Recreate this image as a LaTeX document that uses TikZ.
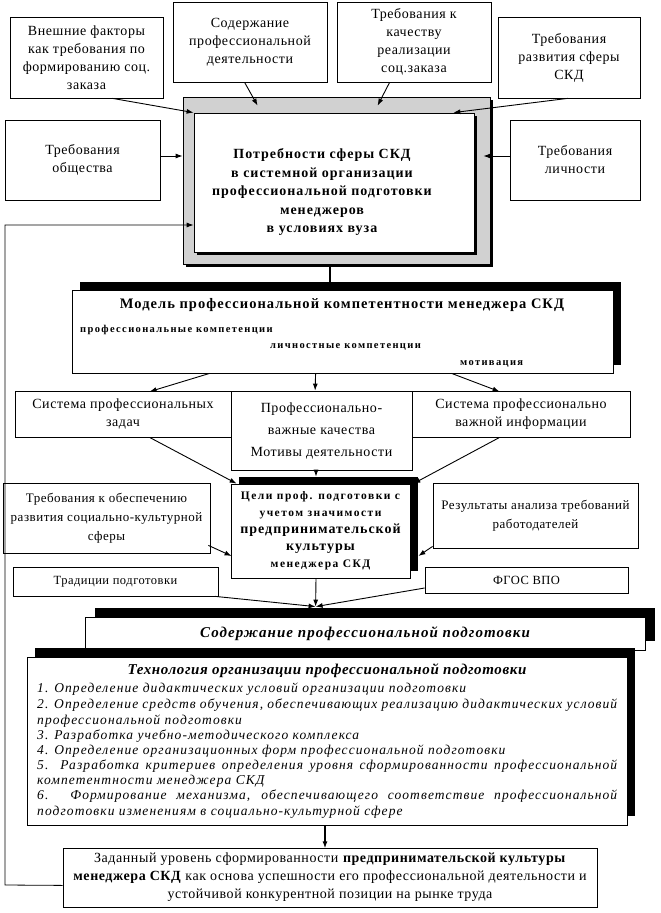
\documentclass[tikz,border=0pt]{standalone}
\usepackage{fontspec}
\setmainfont{Liberation Serif}
\newfontfamily\fntA{Liberation Serif}[LetterSpace=4]
\newfontfamily\fntB{Liberation Serif}[LetterSpace=7]
\newfontfamily\fntC{Liberation Serif}[LetterSpace=13]
\newfontfamily\fntI{Liberation Serif}[LetterSpace=8]
\usetikzlibrary{arrows.meta,shadows,calc}
\begin{document}
\begin{tikzpicture}[x=1pt,y=-1pt,
  box/.style={draw,line width=0.8pt,fill=white,inner sep=2pt,align=center,
    font=\fntA\fontsize{14}{18}\selectfont},
  smallbox/.style={box,font=\fntA\fontsize{13}{19}\selectfont},
  arr/.style={line width=0.9pt,-{Latex[length=7pt,width=5pt]}},
  upshadow/.style 2 args={drop shadow={shadow xshift=#1pt,shadow yshift=#2pt,fill=black,opacity=1}},
  dnshadow/.style={drop shadow={shadow xshift=3pt,shadow yshift=-3pt,fill=black,opacity=1}},
  txt/.style={inner sep=0pt}
]
\useasboundingbox (0,0) rectangle (661,913);

% top row
\node[box,minimum width=153,minimum height=81] (f1) at (86.5,57.5) {Внешние факторы\\как требования по\\формированию соц.\\заказа};
\node[box,minimum width=154,minimum height=80] (f2) at (250,42) {Содержание\\профессиональной\\деятельности};
\node[box,minimum width=154,minimum height=80] (f3) at (414,42) {Требования к\\качеству\\реализации\\соц.заказа};
\node[box,minimum width=142,minimum height=81] (f4) at (569,57.5) {Требования\\развития сферы\\СКД};

% central block
\fill[black] (186,100) rectangle (493,267);
\node[draw,line width=0.8pt,fill=black!18,minimum width=307,minimum height=167] (outer) at (336.5,180.5) {};
\node[draw,line width=0.8pt,fill=white,dnshadow,minimum width=280,minimum height=139] (inner) at (334,182.5) {};
\node[txt,align=center,font=\fntB\bfseries\fontsize{14}{18.5}\selectfont] (need) at (322,192)
  {Потребности сферы СКД\\в системной организации\\профессиональной подготовки\\менеджеров\\в условиях вуза};

\node[box,minimum width=155,minimum height=80] (obsh) at (82.5,160) {Требования\\общества};
\node[box,minimum width=130,minimum height=80] (lich) at (575,160) {Требования\\личности};

\draw[arr] ($(f1.south west)+(103,0)$) -- (inner.north west);
\draw[arr] ($(f2.south west)+(72,0)$) -- ($(outer.north west)+(75,9)$);
\draw[arr] ($(f3.south west)+(53,0)$) -- ($(outer.north west)+(195,9)$);
\draw[arr] ($(f4.south west)+(70,0)$) -- ($(inner.north east)+(-21,0)$);
\draw[arr] ($(obsh.east)+(0,-4)$) -- ($(outer.west |- obsh.east)+(0,-4)$);
\draw[arr] ($(lich.west)+(0,-4)$) -- ($(inner.east |- lich.west)+(9,-4)$);

% model
\node[draw,line width=0.8pt,fill=white,upshadow={8}{8},minimum width=541,minimum height=83] (model) at (342.5,331.5) {};
\draw[line width=2pt] ($(outer.south)+(-6.5,3)$) -- ++(0,16);
\node[txt,font=\fntB\bfseries\fontsize{14.5}{17}\selectfont] (mt) at (342,305) {Модель профессиональной компетентности менеджера СКД};
\node[txt,anchor=base west,font=\fntC\bfseries\fontsize{10.5}{12}\selectfont] (m1) at (80,332) {профессиональные компетенции};
\node[txt,anchor=base west,font=\fntC\bfseries\fontsize{10.5}{12}\selectfont] (m2) at (270,348) {личностные компетенции};
\node[txt,anchor=base west,font=\fntC\bfseries\fontsize{10.5}{12}\selectfont] (m3) at (460,365) {мотивация};

% second row
\node[box,minimum width=216,minimum height=46] (sys1) at (123,414) {Система профессиональных\\задач};
\node[box,minimum width=218,minimum height=46] (sys2) at (521,414) {Система профессионально\\важной информации};
\node[box,minimum width=181,minimum height=79,font=\fntA\fontsize{14}{22}\selectfont] (pvk) at (321.5,430.5) {Профессионально-\\важные качества\\Мотивы деятельности};

\draw[arr] ($(model.south west)+(138,0)$) -- ($(sys1.north west)+(135,1)$);
\draw[arr] ($(model.south west)+(244,0)$) -- ($(pvk.north west)+(84.5,0)$);
\draw[arr] ($(model.south west)+(380,0)$) -- ($(sys2.north west)+(88,1)$);

% goals
\node[box,upshadow={8}{7},minimum width=179,minimum height=94,inner sep=0pt,
  font=\fntC\bfseries\fontsize{11.5}{17}\selectfont] (goals) at (320.5,531)
  {Цели проф. подготовки с\\учетом значимости\\{\fntB\fontsize{14}{17}\selectfont предпринимательской}\\{\fntB\fontsize{14}{17}\selectfont культуры}\\менеджера СКД};

\draw[arr] ($(sys1.south west)+(135,0)$) -- ($(goals.north west)+(6,0)$);
\draw[arr] ($(pvk.south)+(-5.5,0)$) -- ($(goals.north)+(-4.5,-7)$);
\draw[arr] ($(sys2.south west)+(88,0)$) -- ($(goals.north east)+(3,0)$);

\node[smallbox,minimum width=207,minimum height=70] (left) at (106.5,518) {Требования к обеспечению\\развития социально-культурной\\сферы};
\node[smallbox,minimum width=205,minimum height=65] (right) at (535.5,515.5) {Результаты анализа требований\\работодателей};
\draw[arr] ($(left.south east)+(-2,-8)$) -- ($(goals.west)+(1,25)$);
\draw[arr] ($(right.south west)+(0,-2)$) -- ($(goals.east)+(8,25)$);

\node[smallbox,minimum width=205,minimum height=29,font=\fntA\fontsize{12.5}{15}\selectfont] (trad) at (115.5,581.5) {Традиции подготовки};
\node[smallbox,minimum width=203,minimum height=26,font=\fntA\fontsize{12.5}{15}\selectfont] (fgos) at (526.5,580) {ФГОС ВПО};

% content
\node[draw,line width=0.8pt,fill=white,upshadow={10}{9},minimum width=560,minimum height=33,
  font=\fntB\bfseries\itshape\fontsize{15}{18}\selectfont] (content) at (365,633.5) {Содержание профессиональной подготовки};
\coordinate (m) at ($(content.north west)+(231,-10)$);
\draw[arr] ($(trad.south east)+(-3,0)$) -- (m);
\draw[arr] ($(goals.south)+(-4.5,0)$) -- (m);
\draw[arr] ($(fgos.west)+(0,8)$) -- (m);

% technology
\node[draw,line width=0.8pt,fill=white,upshadow={8}{9},minimum width=600,minimum height=168] (tech) at (327,741) {};
\node[txt,font=\fntA\bfseries\itshape\fontsize{15}{18}\selectfont] (tt) at (327,671) {Технология организации профессиональной подготовки};
\begin{scope}[every node/.style={txt,anchor=base west,font=\fntI\itshape\fontsize{13.5}{15}\selectfont}]
\node (t1) at (37,692) {1. Определение дидактических условий организации подготовки};
\node (t2) at (37,708) {\makebox[580pt][s]{2. Определение средств обучения, обеспечивающих реализацию дидактических условий}};
\node (t3) at (37,724) {профессиональной подготовки};
\node (t4) at (37,739) {3. Разработка учебно-методического комплекса};
\node (t5) at (37,754) {4. Определение организационных форм профессиональной подготовки};
\node (t6) at (37,769) {\makebox[580pt][s]{5. Разработка критериев определения уровня сформированности профессиональной}};
\node (t7) at (37,784) {компетентности менеджера СКД};
\node (t8) at (37,799) {\makebox[580pt][s]{6. Формирование механизма, обеспечивающего соответствие профессиональной}};
\node (t9) at (37,815) {подготовки изменениям в социально-культурной сфере};
\end{scope}

% bottom
\node[box,minimum width=534,minimum height=59] (bottom) at (330,877.5)
  {Заданный уровень сформированности \textbf{предпринимательской культуры}\\\textbf{менеджера СКД} как основа успешности его профессиональной деятельности и\\устойчивой конкурентной позиции на рынке труда};
\draw[arr,line width=1.8pt] ($(tech.south)+(-2,0)$) -- ($(tech.south)+(-2,23)$);

% feedback loop
\draw[arr,line width=0.8pt] ($(bottom.south west)+(0,-22)$) -- (5,885) -- (5,225) -- (inner.west |- 5,225);
\end{tikzpicture}
\end{document}
